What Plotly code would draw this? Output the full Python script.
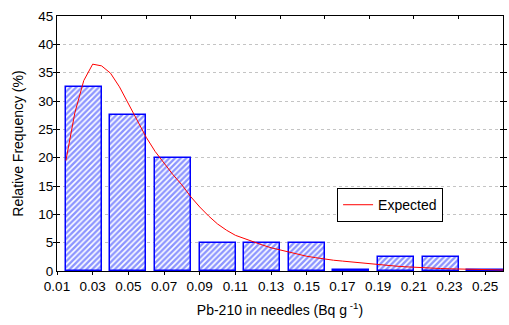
import plotly.graph_objects as go

# Histogram bins (centres, Pb-210 in needles, Bq g-1) and relative frequency (%)
bin_centers = [0.025, 0.05, 0.075, 0.10, 0.125, 0.15, 0.175, 0.20, 0.225, 0.25]
rel_freq = [32.5, 27.5, 20.0, 5.0, 5.0, 5.0, 0.1, 2.5, 2.5, 0.1]

# Expected (fitted) curve
exp_x = [0.015, 0.020, 0.025, 0.030, 0.035, 0.040, 0.045, 0.050, 0.055, 0.060,
         0.065, 0.070, 0.075, 0.080, 0.085, 0.090, 0.095, 0.100, 0.105, 0.110,
         0.115, 0.120, 0.125, 0.130, 0.135, 0.140, 0.145, 0.150, 0.155, 0.160,
         0.165, 0.170, 0.175, 0.180, 0.185, 0.190, 0.195, 0.200, 0.205, 0.210,
         0.215, 0.220, 0.225, 0.230, 0.235, 0.240, 0.245, 0.250, 0.255, 0.260]
exp_y = [19.5, 27.9, 33.6, 36.5, 36.2, 34.9, 32.5, 29.6, 26.5, 23.6,
         21.1, 19.0, 17.0, 15.2, 13.1, 11.3, 9.7, 8.3, 7.2, 6.3,
         5.7, 5.2, 4.6, 4.1, 3.7, 3.3, 2.9, 2.6, 2.35, 2.1,
         1.9, 1.75, 1.6, 1.4, 1.2, 1.08, 0.97, 0.86, 0.75, 0.65,
         0.57, 0.50, 0.44, 0.39, 0.34, 0.30, 0.25, 0.22, 0.20, 0.18]

x_tick_vals = [0.01, 0.03, 0.05, 0.07, 0.09, 0.11, 0.13, 0.15, 0.17, 0.19, 0.21, 0.23, 0.25]
x_tick_text = ["0.01", "0.03", "0.05", "0.07", "0.09", "0.11", "0.13", "0.15",
               "0.17", "0.19", "0.21", "0.23", "0.25"]
top_tick_vals = [0.01, 0.035, 0.06, 0.085, 0.11, 0.135, 0.16, 0.185, 0.21, 0.235, 0.26]
y_tick_vals = [0, 5, 10, 15, 20, 25, 30, 35, 40, 45]

FONT = "Liberation Sans, Arial, sans-serif"

fig = go.Figure()
fig.add_trace(go.Bar(
    x=bin_centers, y=rel_freq, width=0.0202,
    marker=dict(color="white",
                line=dict(color="#0000ff", width=1.5),
                pattern=dict(shape="/", fgcolor="#1a2bff", bgcolor="white",
                             size=4, solidity=0.6)),
    showlegend=False,
))
fig.add_trace(go.Scatter(
    x=exp_x, y=exp_y, mode="lines", name="Expected",
    line=dict(color="#ff0000", width=1),
))
# invisible trace for top axis
fig.add_trace(go.Scatter(x=[0.01, 0.26], y=[0, 0], xaxis="x2", mode="lines",
                         line=dict(width=0), hoverinfo="skip", showlegend=False))

fig.update_layout(
    width=509, height=325,
    margin=dict(l=57, r=6, t=16, b=54, autoexpand=False),
    paper_bgcolor="white", plot_bgcolor="white",
    font=dict(family=FONT, size=13, color="black"),
    bargap=0,
    xaxis=dict(
        range=[0.01, 0.26], tickmode="array", tickvals=x_tick_vals, ticktext=x_tick_text,
        ticks="outside", ticklen=3, tickcolor="black", showgrid=False, zeroline=False,
        showline=True, linecolor="black", linewidth=1, mirror=False,
        tickfont=dict(size=13.5),
        title=dict(text="Pb-210 in needles (Bq g<sup> -1</sup>)", standoff=11,
                   font=dict(size=14)),
        automargin=False,
    ),
    xaxis2=dict(
        range=[0.01, 0.26], overlaying="x", side="top", tickmode="array",
        tickvals=top_tick_vals, showticklabels=False, ticks="inside", ticklen=3,
        tickcolor="black", showgrid=False, zeroline=False, showline=True,
        linecolor="black", linewidth=1, automargin=False,
    ),
    yaxis=dict(
        range=[0, 45], tickmode="array", tickvals=y_tick_vals,
        ticks="inside", ticklen=3, tickcolor="black",
        showgrid=True, gridcolor="#c4c4c4", griddash="dot", gridwidth=1,
        zeroline=False, showline=True, linecolor="black", linewidth=1,
        mirror="allticks", tickfont=dict(size=13.5),
        title=dict(text="Relative Frequency (%)", standoff=11, font=dict(size=14)),
        automargin=False,
    ),
    legend=dict(
        x=0.628, y=0.325, xanchor="left", yanchor="top",
        bordercolor="black", borderwidth=1, bgcolor="white",
        font=dict(size=14), itemwidth=30,
    ),
)

fig.write_html("out.html")
